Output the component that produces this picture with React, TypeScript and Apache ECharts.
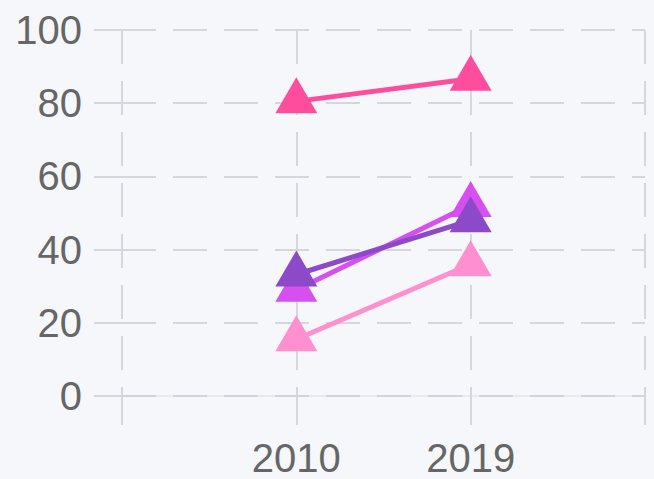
import React, { useEffect, useRef } from "react";
import * as echarts from "echarts";

const years = ["2010", "2019"];
const xCategories = ["", ...years, ""];
const seriesNames = ["A", "B", "C", "D"];
const seriesColors = ["#ff4d9e", "#ff90d0", "#d74ff0", "#8c49c8"];
const seriesA = [80.5, 86.7];
const seriesB = [15.5, 36.0];
const seriesC = [29.0, 52.2];
const seriesD = [33.2, 48.0];
const yTicks = [0, 20, 40, 60, 80, 100];

export default function App() {
  const ref = useRef<HTMLDivElement>(null);
  useEffect(() => {
    if (!ref.current) return;
    const chart = echarts.init(ref.current, null, { renderer: "svg" });
    const values = [seriesA, seriesB, seriesC, seriesD];
    const gridColor = "#d6d6dc";
    const dash = [34, 17];
    chart.setOption({
      animation: false,
      backgroundColor: "#f5f7fb",
      grid: { left: 122, right: 9, top: 30, bottom: 83, containLabel: false },
      xAxis: {
        type: "category",
        data: xCategories,
        boundaryGap: false,
        axisLine: { show: true, lineStyle: { color: "rgba(210,210,220,0.35)", width: 2 } },
        axisTick: { show: true, length: 29, lineStyle: { color: gridColor, width: 2 } },
        axisLabel: {
          margin: 42,
          fontSize: 40,
          color: "#666",
          fontFamily: "Liberation Sans, Arial, sans-serif",
        },
        splitLine: { show: true, lineStyle: { color: gridColor, width: 2, type: dash } },
      },
      yAxis: {
        type: "value",
        min: yTicks[0],
        max: yTicks[yTicks.length - 1],
        interval: yTicks[1] - yTicks[0],
        axisLine: { show: false },
        axisTick: { show: true, length: 28, lineStyle: { color: gridColor, width: 2 } },
        axisLabel: {
          margin: 40,
          fontSize: 40,
          color: "#666",
          fontFamily: "Liberation Sans, Arial, sans-serif",
          padding: [0, 0, 8, 0],
        },
        splitLine: { show: true, lineStyle: { color: gridColor, width: 2, type: dash } },
      },
      series: values.map((v, i) => ({
        name: seriesNames[i],
        type: "line",
        data: ["-", ...v, "-"],
        symbol: "triangle",
        symbolSize: [42, 36],
        symbolOffset: [0, -6],
        showAllSymbol: true,
        lineStyle: { color: seriesColors[i], width: 5 },
        itemStyle: { color: seriesColors[i] },
      })),
    });
    return () => chart.dispose();
  }, []);
  return (
    <div
      ref={ref}
      style={{ position: "fixed", left: 0, top: 0, width: 654, height: 479 }}
    />
  );
}
